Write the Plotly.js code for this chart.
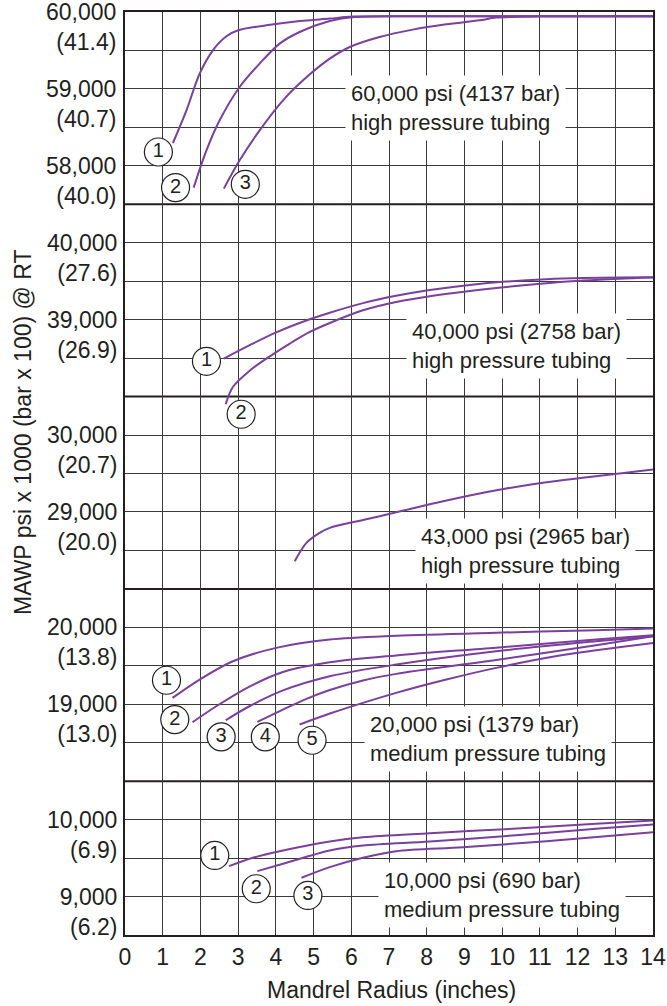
<!DOCTYPE html>
<html><head><meta charset="utf-8">
<script src="https://cdn.plot.ly/plotly-3.0.1.min.js"></script>
<style>html,body{margin:0;padding:0;background:#fff}#chart{width:667px;height:1006px}</style>
</head><body><div id="chart"></div>
<script>
// ---------- DATA ----------
const radiusTicks = [0,1,2,3,4,5,6,7,8,9,10,11,12,13,14];

// Panel 1: 60,000 psi high pressure tubing
const p60_c1_x = [1.27, 1.63, 1.98, 2.33, 2.69, 3.0, 3.75, 4.63, 5.43, 6.04, 8, 10, 12, 14];
const p60_c1_y = [58297, 58722, 59199, 59502, 59684, 59762, 59827, 59883, 59914, 59940, 59944, 59944, 59944, 59944];
const p60_c2_x = [1.82, 2.16, 2.51, 3.04, 3.57, 4.1, 4.63, 5.43, 6.1, 8, 10, 12, 14];
const p60_c2_y = [57717, 58202, 58592, 59025, 59329, 59589, 59740, 59883, 59935, 59944, 59944, 59944, 59944];
const p60_c3_x = [2.62, 3.04, 3.57, 4.19, 4.81, 5.43, 5.96, 6.75, 7.63, 8.52, 9.4, 9.84, 11, 12.5, 14];
const p60_c3_y = [57704, 58072, 58462, 58852, 59151, 59394, 59545, 59675, 59771, 59840, 59892, 59927, 59944, 59944, 59944];

// Panel 2: 40,000 psi high pressure tubing
const p40_c1_x = [2.62, 3.32, 4.01, 4.81, 5.43, 6.31, 7.19, 8.08, 9.14, 10.11, 11.17, 12.14, 13.11, 14];
const p40_c1_y = [38494, 38672, 38835, 38990, 39090, 39215, 39310, 39385, 39452, 39496, 39527, 39542, 39548, 39551];
const p40_c2_x = [2.67, 2.86, 3.32, 3.75, 4.37, 4.9, 5.43, 6.31, 7.19, 8.08, 9.14, 10.11, 11.17, 12.14, 13.11, 14];
const p40_c2_y = [37900, 38125, 38342, 38494, 38689, 38840, 38957, 39122, 39230, 39304, 39373, 39425, 39472, 39508, 39532, 39547];

// Panel 3: 43,000 psi high pressure tubing
const p43_x = [4.5, 4.81, 5.16, 5.43, 6.31, 7.19, 8.08, 9.14, 10.11, 11.08, 12.14, 13.11, 14];
const p43_y = [28359, 28598, 28728, 28793, 28895, 28995, 29100, 29215, 29305, 29380, 29445, 29500, 29551];

// Panel 4: 20,000 psi medium pressure tubing
const p20_c1_x = [1.26, 1.98, 2.86, 4.01, 5.43, 7.19, 9.84, 12.49, 14];
const p20_c1_y = [19083, 19321, 19559, 19733, 19841, 19890, 19930, 19962, 19984];
const p20_c2_x = [1.79, 2.42, 3.3, 4.19, 5.43, 7.19, 9.84, 12.49, 14];
const p20_c2_y = [18766, 18974, 19230, 19420, 19545, 19635, 19735, 19841, 19897];
const p20_c3_x = [2.67, 3.3, 4.19, 5.43, 7.19, 9.84, 12.49, 14];
const p20_c3_y = [18792, 18974, 19180, 19364, 19516, 19689, 19819, 19884];
const p20_c4_x = [3.51, 4.19, 4.81, 5.43, 6.31, 7.19, 9.84, 12.49, 14];
const p20_c4_y = [18771, 18931, 19070, 19185, 19310, 19395, 19575, 19767, 19884];
const p20_c5_x = [4.63, 5.43, 6.31, 7.19, 8.52, 9.84, 11.61, 14];
const p20_c5_y = [18736, 18879, 19018, 19148, 19321, 19473, 19640, 19798];

// Panel 5: 10,000 psi medium pressure tubing
const p10_c1_x = [2.76, 3.39, 4.19, 5.43, 6.31, 8.08, 10.28, 12.49, 14];
const p10_c1_y = [9395, 9504, 9599, 9716, 9772, 9824, 9881, 9946, 9989];
const p10_c2_x = [3.51, 4.19, 5.43, 6.31, 8.08, 10.28, 12.49, 14];
const p10_c2_y = [9330, 9426, 9599, 9664, 9716, 9794, 9881, 9937];
const p10_c3_x = [4.68, 5.43, 6.31, 7.19, 8.96, 11.17, 14];
const p10_c3_y = [9244, 9382, 9504, 9590, 9642, 9720, 9837];

// Tick labels (psi and bar x 100)
const ticks60_vals = [60000, 59500, 59000, 58500, 58000];
const ticks60_text = ["60,000<br>(41.4)", "", "59,000<br>(40.7)", "", "58,000<br>(40.0)"];
const ticks40_vals = [40000, 39500, 39000, 38500];
const ticks40_text = ["40,000<br>(27.6)", "", "39,000<br>(26.9)", ""];
const ticks43_vals = [30000, 29500, 29000, 28500];
const ticks43_text = ["30,000<br>(20.7)", "", "29,000<br>(20.0)", ""];
const ticks20_vals = [20000, 19500, 19000, 18500];
const ticks20_text = ["20,000<br>(13.8)", "", "19,000<br>(13.0)", ""];
const ticks10_vals = [10000, 9500, 9000];
const ticks10_text = ["10,000<br>(6.9)", "", "9,000<br>(6.2)"];

const panelTitles = [
  "60,000 psi (4137 bar)<br>high pressure tubing",
  "40,000 psi (2758 bar)<br>high pressure tubing",
  "43,000 psi (2965 bar)<br>high pressure tubing",
  "20,000 psi (1379 bar)<br>medium pressure tubing",
  "10,000 psi (690 bar)<br>medium pressure tubing"
];
const xTitle = "Mandrel Radius (inches)";
const yTitle = "MAWP psi x 1000 (bar x 100) @ RT";

// ---------- LAYOUT CONSTANTS ----------
const PURPLE = '#7B3F9E';
const INK = '#231F20';
const GRID = '#3a3a3a';
const FONT = 'Liberation Sans, Arial, sans-serif';
const STEP = 500, NSTEP = 24;
function rng(topAtPlotTop){ return [topAtPlotTop - STEP*NSTEP, topAtPlotTop]; }

const traces = [];
function curve(x, y, ax){
  traces.push({x:x, y:y, yaxis:ax, type:'scatter', mode:'lines',
    line:{color:PURPLE, width:2, shape:'spline', smoothing:0.9}, hoverinfo:'skip'});
}
curve(p60_c1_x, p60_c1_y, 'y'); curve(p60_c2_x, p60_c2_y, 'y'); curve(p60_c3_x, p60_c3_y, 'y');
curve(p40_c1_x, p40_c1_y, 'y2'); curve(p40_c2_x, p40_c2_y, 'y2');
curve(p43_x, p43_y, 'y3');
curve(p20_c1_x, p20_c1_y, 'y4'); curve(p20_c2_x, p20_c2_y, 'y4'); curve(p20_c3_x, p20_c3_y, 'y4');
curve(p20_c4_x, p20_c4_y, 'y4'); curve(p20_c5_x, p20_c5_y, 'y4');
curve(p10_c1_x, p10_c1_y, 'y5'); curve(p10_c2_x, p10_c2_y, 'y5'); curve(p10_c3_x, p10_c3_y, 'y5');

// circled curve numbers (label placement)
const circleSets = [
  {ax:'y',  x:[0.885, 1.34, 3.19], y:[58180, 57717, 57760], t:['1','2','3']},
  {ax:'y2', x:[2.16, 3.08], y:[38459, 37770], t:['1','2']},
  {ax:'y4', x:[1.10, 1.32, 2.55, 3.72, 4.96], y:[19312, 18801, 18576, 18576, 18532], t:['1','2','3','4','5']},
  {ax:'y5', x:[2.38, 3.48, 4.85], y:[9534, 9101, 9014], t:['1','2','3']}
];
circleSets.forEach(s => traces.push({x:s.x, y:s.y, text:s.t, yaxis:s.ax, type:'scatter',
  mode:'markers+text', textposition:'middle center', cliponaxis:false, hoverinfo:'skip',
  marker:{symbol:'circle', size:28, color:'#ffffff', line:{color:INK, width:1.2}},
  textfont:{family:FONT, size:20, color:INK}}));

const tickFont = {family:FONT, size:23, color:INK};
function yax(vals, text, range, extra){
  return Object.assign({range:range, tickvals:vals, ticktext:text, showgrid:true,
    gridcolor:GRID, gridwidth:1, zeroline:false, tickfont:tickFont, ticks:'outside',
    ticklen:2, tickcolor:'rgba(0,0,0,0)', ticklabelshift:15, ticklabeloverflow:'allow',
    fixedrange:true, side:'left', anchor:'x'}, extra||{});
}

const layout = {
  width:667, height:1006,
  margin:{l:125, r:14, t:12, b:71},
  paper_bgcolor:'#ffffff', plot_bgcolor:'#ffffff',
  showlegend:false,
  font:{family:FONT, color:INK},
  xaxis:{range:[0,14], tickvals:radiusTicks, showgrid:true, gridcolor:GRID, gridwidth:1,
    zeroline:false, showline:true, mirror:true, linecolor:INK, linewidth:2,
    tickfont:tickFont, ticks:'outside', ticklen:0, tickcolor:'rgba(0,0,0,0)'},
  yaxis:  yax(ticks60_vals, ticks60_text, rng(60000), {showline:true, mirror:true, linecolor:INK, linewidth:2}),
  yaxis2: yax(ticks40_vals, ticks40_text, rng(43000), {overlaying:'y'}),
  yaxis3: yax(ticks43_vals, ticks43_text, rng(35500), {overlaying:'y'}),
  yaxis4: yax(ticks20_vals, ticks20_text, rng(28000), {overlaying:'y'}),
  yaxis5: yax(ticks10_vals, ticks10_text, rng(20500), {overlaying:'y'}),
  shapes: [
    {yref:'y', y:57500}, {yref:'y2', y:38000}, {yref:'y3', y:28000}, {yref:'y4', y:18000}
  ].map(b => ({type:'line', xref:'paper', x0:0, x1:1, yref:b.yref, y0:b.y, y1:b.y,
    line:{color:INK, width:2}, layer:'between'})),
  annotations: []
};

const boxPos = [
  {ax:'y',  x:5.82, y:58748},
  {ax:'y2', x:7.44, y:38654},
  {ax:'y3', x:7.70, y:28498},
  {ax:'y4', x:6.35, y:18545},
  {ax:'y5', x:6.71, y:9014}
];
boxPos.forEach((b,i) => layout.annotations.push({xref:'x', yref:b.ax, x:b.x, y:b.y,
  xanchor:'left', yanchor:'middle', align:'left', showarrow:false, text:panelTitles[i],
  bgcolor:'#ffffff', borderpad:5, font:{family:FONT, size:22, color:INK}}));

layout.annotations.push({xref:'paper', yref:'paper', x:(391-125)/528, y:(935-990)/923,
  xanchor:'center', yanchor:'middle', showarrow:false, text:xTitle,
  font:{family:FONT, size:23, color:INK}});
layout.annotations.push({xref:'paper', yref:'paper', x:(22.5-125)/528, y:(935-432.5)/923,
  xanchor:'center', yanchor:'middle', showarrow:false, text:yTitle, textangle:-90,
  font:{family:FONT, size:23, color:INK}});

Plotly.newPlot('chart', traces, layout, {staticPlot:true, displayModeBar:false});
</script>
</body></html>
